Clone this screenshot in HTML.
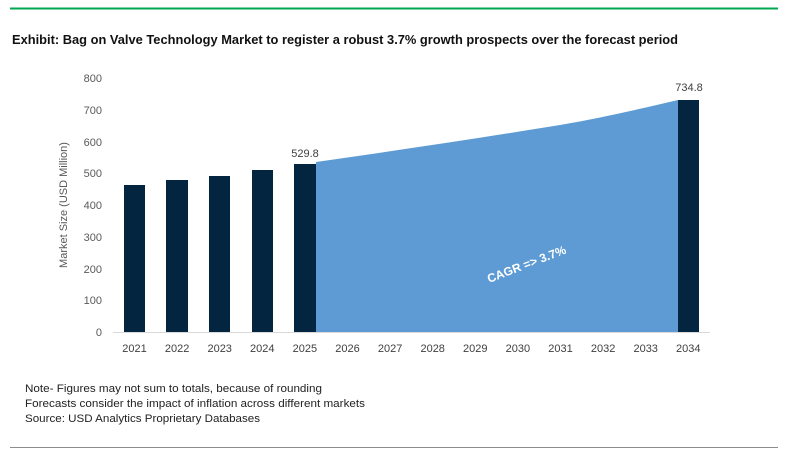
<!DOCTYPE html>
<html><head><meta charset="utf-8"><style>
body{margin:0;width:802px;height:465px;background:#fff;overflow:hidden;font-family:"Liberation Sans",sans-serif}
</style></head><body>
<svg width="802" height="465" xmlns="http://www.w3.org/2000/svg" style="position:absolute;left:0;top:0">
<line x1="10" y1="8.5" x2="778" y2="8.5" stroke="#00a650" stroke-width="2"/>
<text x="12" y="44" textLength="666" lengthAdjust="spacingAndGlyphs" font-family="Liberation Sans, sans-serif" font-weight="bold" font-size="13" fill="#111">Exhibit: Bag on Valve Technology Market to register a robust 3.7% growth prospects over the forecast period</text>
<g font-family="Liberation Sans, sans-serif" font-size="11" fill="#595959" text-anchor="end">
<text x="102" y="82">800</text><text x="102" y="114">700</text><text x="102" y="146">600</text><text x="102" y="177">500</text><text x="102" y="209">400</text><text x="102" y="241">300</text><text x="102" y="273">200</text><text x="102" y="304">100</text><text x="102" y="336">0</text>
</g>
<text transform="translate(67,205) rotate(-90)" text-anchor="middle" font-size="11" fill="#595959" font-family="Liberation Sans, sans-serif">Market Size (USD Million)</text>
<path d="M316,162 C400,150 480,138 560,125 C600,118 640,109 678,100 L678,332 L316,332 Z" fill="#5e9bd4"/>
<g fill="#032540">
<rect x="124" y="185" width="21" height="147"/>
<rect x="166" y="180" width="22" height="152"/>
<rect x="209" y="176" width="21" height="156"/>
<rect x="252" y="170" width="21" height="162"/>
<rect x="294" y="164" width="22" height="168"/>
<rect x="678" y="100" width="21" height="232"/>
</g>
<line x1="113" y1="332.5" x2="710" y2="332.5" stroke="#d9d9d9" stroke-width="1"/>
<g font-family="Liberation Sans, sans-serif" font-size="11" fill="#404040" text-anchor="middle">
<text x="305" y="157">529.8</text><text x="689" y="91">734.8</text>
<text x="134.5" y="352">2021</text><text x="177.1" y="352">2022</text><text x="219.7" y="352">2023</text><text x="262.3" y="352">2024</text><text x="304.9" y="352">2025</text><text x="347.5" y="352">2026</text><text x="390.1" y="352">2027</text><text x="432.7" y="352">2028</text><text x="475.3" y="352">2029</text><text x="517.9" y="352">2030</text><text x="560.5" y="352">2031</text><text x="603.1" y="352">2032</text><text x="645.7" y="352">2033</text><text x="688.3" y="352">2034</text>
</g>
<text transform="translate(528,268) rotate(-21)" text-anchor="middle" font-family="Liberation Sans, sans-serif" font-weight="bold" font-size="12" fill="#fff">CAGR =&gt; 3.7%</text>
<g font-family="Liberation Sans, sans-serif" font-size="11" fill="#222">
<text x="25" y="392" textLength="297" lengthAdjust="spacingAndGlyphs">Note- Figures may not sum to totals, because of rounding</text>
<text x="25" y="407" textLength="340" lengthAdjust="spacingAndGlyphs">Forecasts consider the impact of inflation across different markets</text>
<text x="25" y="422" textLength="235" lengthAdjust="spacingAndGlyphs">Source: USD Analytics Proprietary Databases</text>
</g>
<line x1="10" y1="447.5" x2="778" y2="447.5" stroke="#8c8c8c" stroke-width="1"/>
</svg>
</body></html>
